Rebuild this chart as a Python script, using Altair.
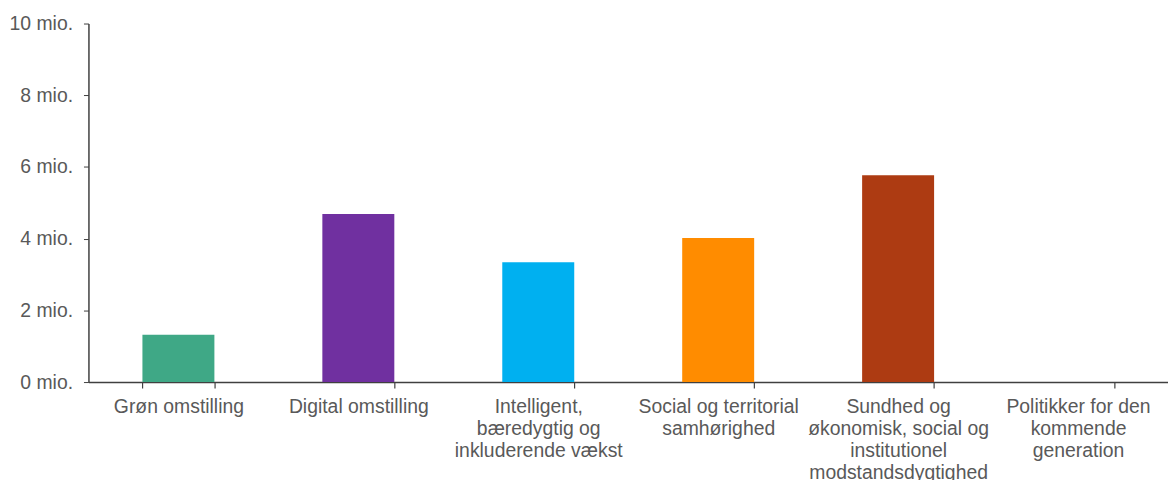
import json
import altair as alt
import pandas as pd

categories = [
    "Grøn omstilling",
    "Digital omstilling",
    "Intelligent, bæredygtig og inkluderende vækst",
    "Social og territorial samhørighed",
    "Sundhed og økonomisk, social og institutionel modstandsdygtighed",
    "Politikker for den kommende generation",
]
label_lines = [
    ["Grøn omstilling"],
    ["Digital omstilling"],
    ["Intelligent,", "bæredygtig og", "inkluderende vækst"],
    ["Social og territorial", "samhørighed"],
    ["Sundhed og", "økonomisk, social og", "institutionel", "modstandsdygtighed"],
    ["Politikker for den", "kommende", "generation"],
]
values_mio = [1.32, 4.69, 3.34, 4.02, 5.77, 0.0]
colors = ["#3FA886", "#7030A0", "#00B0F0", "#FF8C00", "#AD3B12", "#FFFFFF"]

df = pd.DataFrame({"cat": categories, "val": values_mio})

label_expr = (
    json.dumps(label_lines, ensure_ascii=False)
    + "[indexof("
    + json.dumps(categories, ensure_ascii=False)
    + ", datum.label)]"
)

FONT = "Liberation Sans"
GREY = "#595959"
FS = 19.5

chart = (
    alt.Chart(df)
    .mark_bar()
    .encode(
        x=alt.X(
            "cat:N",
            sort=categories,
            title=None,
            scale=alt.Scale(paddingInner=0.6, paddingOuter=0.3),
            axis=alt.Axis(
                labelExpr=label_expr,
                labelAngle=0,
                labelFont=FONT,
                labelFontSize=FS,
                labelColor=GREY,
                labelLineHeight=22,
                labelPadding=10,
                labelLimit=0,
                tickBand="extent",
                tickSize=6,
                tickWidth=1.2,
                tickColor="#404040",
                domainColor="#404040",
                domainWidth=1.5,
                labelBaseline="top",
            ),
        ),
        y=alt.Y(
            "val:Q",
            title=None,
            scale=alt.Scale(domain=[0, 10]),
            axis=alt.Axis(
                values=[0, 2, 4, 6, 8, 10],
                labelExpr="datum.value + ' mio.'",
                labelFont=FONT,
                labelFontSize=FS,
                labelColor=GREY,
                labelPadding=11,
                tickSize=5,
                tickColor="#404040",
                domainColor="#404040",
                domainWidth=1.5,
                grid=False,
            ),
        ),
        color=alt.Color(
            "cat:N",
            sort=categories,
            scale=alt.Scale(domain=categories, range=colors),
            legend=None,
        ),
    )
    .properties(
        width=1087,
        height=361,
        padding={"left": 1, "top": 4, "right": 0, "bottom": 0},
    )
    .configure_view(stroke=None)
)

chart.save("out.html", embed_options={"renderer": "svg", "actions": False})
